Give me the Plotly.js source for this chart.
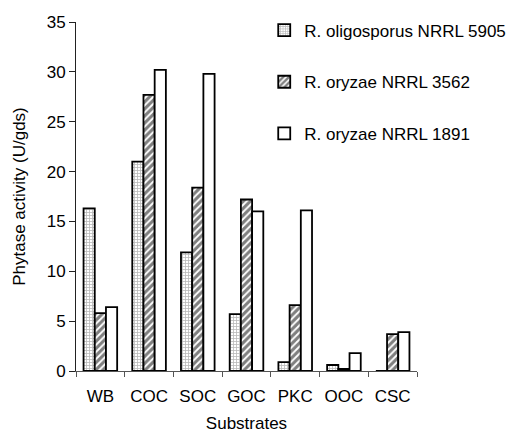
<!DOCTYPE html>
<html>
<head>
<meta charset="utf-8">
<script src="https://cdn.plot.ly/plotly-3.0.1.min.js"></script>
<style>html,body{margin:0;padding:0;background:#fff;}#chart{width:523px;height:433px;}</style>
</head>
<body>
<div id="chart"></div>
<script>
const categories = ["WB", "COC", "SOC", "GOC", "PKC", "OOC", "CSC"];
const seriesNames = ["R. oligosporus NRRL 5905", "R. oryzae NRRL 3562", "R. oryzae NRRL 1891"];
const oligosporus5905 = [16.3, 21.0, 11.9, 5.7, 0.9, 0.6, 0];
const oryzae3562 = [5.8, 27.7, 18.4, 17.2, 6.6, 0.2, 3.7];
const oryzae1891 = [6.4, 30.2, 29.8, 16.0, 16.1, 1.8, 3.9];
const yTicks = [0, 5, 10, 15, 20, 25, 30, 35];

const FONT = "Liberation Sans, Arial, sans-serif";
const FS = 17;
const outline = {color: "#000", width: 1.8};

const traces = [
  {type: "bar", name: seriesNames[0], x: categories, y: oligosporus5905, legendgroup: "a",
   marker: {color: "#fff", line: outline, pattern: {shape: "+", size: 3, solidity: 0.45, fgcolor: "#707070", bgcolor: "#ffffff", fillmode: "overlay"}}},
  {type: "bar", name: seriesNames[1], x: categories, y: oryzae3562, legendgroup: "b",
   marker: {color: "#fff", line: outline, pattern: {shape: "/", size: 5, solidity: 0.62, fgcolor: "#000", bgcolor: "#ffffff", fillmode: "overlay"}}},
  {type: "bar", name: seriesNames[2], x: categories, y: oryzae1891, legendgroup: "c",
   marker: {color: "#fff", line: outline}}
];

const layout = {
  width: 523, height: 433,
  margin: {l: 76, r: 83, t: 22, b: 62},
  paper_bgcolor: "#fff", plot_bgcolor: "#fff",
  font: {family: FONT, size: FS, color: "#000"},
  barmode: "group", bargap: 0.31, bargroupgap: 0,
  showlegend: true,
  legend: {x: 0.552, y: 1.027, xanchor: "left", yanchor: "top", bgcolor: "rgba(0,0,0,0)",
           font: {family: FONT, size: FS, color: "#000"}, traceorder: "grouped", tracegroupgap: 26.5},
  xaxis: {type: "category", showline: true, linecolor: "#555", linewidth: 1, automargin: false,
          ticks: "outside", tickson: "boundaries", ticklen: 5, tickcolor: "#555",
          ticklabelstandoff: 10, tickangle: 0,
          showgrid: false, zeroline: false, tickfont: {family: FONT, size: FS},
          title: {text: "Substrates", font: {family: FONT, size: FS}, standoff: 24}},
  yaxis: {range: [0, 35], tickvals: yTicks, showline: true, linecolor: "#222", linewidth: 1, automargin: false,
          ticks: "outside", ticklen: 6, tickcolor: "#222", showgrid: false, zeroline: false,
          tickfont: {family: FONT, size: FS},
          title: {text: "Phytase activity (U/gds)", font: {family: FONT, size: FS}, standoff: 16}}
};

Plotly.newPlot("chart", traces, layout, {displayModeBar: false, staticPlot: true});
</script>
</body>
</html>
